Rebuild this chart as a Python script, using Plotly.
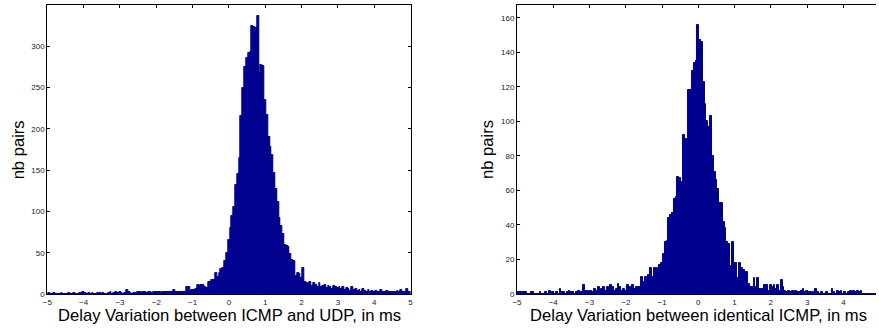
import numpy as np
import plotly.graph_objects as go

# Bin centres: -5 .. 5 step 0.05 (201 bins, width 0.05)
bin_start = -5.0
bin_width = 0.05
n_bins = 201
centers = [round(bin_start + bin_width * k, 3) for k in range(n_bins)]

# Left histogram: delay variation between ICMP and UDP
counts_icmp_udp = (
    [0, 1, 0, 0, 1, 0, 0, 0, 1, 0, 0, 0, 1, 0, 0, 1, 0, 0, 1, 1]
    + [3, 1, 0, 1, 0, 1, 0, 0, 1, 1, 0, 1, 0, 0, 1, 2, 0, 1, 2, 1]
    + [2, 1, 0, 1, 5, 2, 1, 0, 1, 1, 2, 2, 1, 3, 2, 1, 3, 2, 1, 2]
    + [3, 2, 3, 1, 3, 2, 3, 2, 3, 2, 5, 2, 3, 2, 3, 2, 3, 8, 8, 4]
    + [5, 5, 6, 11, 10, 11, 11, 8, 7, 14, 15, 17, 17, 25, 21, 25, 30, 32, 40, 50]
    + [66, 80, 95, 105, 132, 145, 165, 216, 250, 275, 286, 292, 293, 325, 323, 322, 337, 268, 277, 276]
    + [235, 217, 190, 178, 168, 146, 127, 112, 92, 82, 73, 59, 58, 57, 49, 41, 40, 22, 25, 24]
    + [19, 32, 14, 13, 12, 15, 10, 13, 11, 9, 13, 8, 10, 11, 7, 10, 9, 6, 10, 8]
    + [7, 9, 6, 8, 5, 7, 6, 4, 8, 5, 6, 4, 5, 3, 6, 4, 3, 5, 2, 4]
    + [3, 4, 2, 3, 5, 2, 3, 4, 2, 3, 2, 3, 2, 4, 2, 5, 3, 2, 6, 2, 3]
)

# Right histogram: delay variation between identical ICMP
counts_icmp_icmp = (
    [1, 1, 1, 0, 1, 1, 0, 0, 1, 1, 0, 0, 0, 1, 0, 0, 1, 0, 2, 0]
    + [1, 0, 1, 0, 3, 1, 1, 0, 1, 2, 1, 1, 0, 1, 2, 1, 1, 5, 2, 2]
    + [1, 2, 1, 3, 2, 4, 2, 3, 4, 2, 4, 3, 5, 4, 2, 3, 6, 4, 2, 3]
    + [2, 5, 3, 4, 5, 3, 4, 4, 4, 10, 7, 10, 7, 11, 15, 10, 15, 15, 10, 17]
    + [18, 23, 30, 31, 44, 46, 47, 55, 56, 68, 67, 65, 92, 90, 87, 118, 118, 129, 134, 135]
    + [156, 147, 146, 123, 110, 100, 97, 103, 80, 71, 66, 61, 53, 53, 42, 38, 30, 29, 16, 30]
    + [11, 18, 9, 18, 15, 14, 13, 13, 6, 4, 4, 9, 4, 9, 3, 3, 2, 5, 5, 2]
    + [5, 4, 5, 3, 5, 2, 8, 4, 2, 1, 2, 1, 2, 1, 2, 1, 1, 2, 3, 1]
    + [2, 1, 1, 0, 1, 3, 1, 0, 1, 0, 0, 1, 0, 0, 3, 1, 0, 2, 1, 2]
    + [0, 1, 0, 1, 2, 1, 2, 1, 2, 1, 2, 0, 0, 0, 0, 0, 0, 0, 0, 0, 0]
)

xticks_left = [-5, -4, -3, -2, -1, 0, 1, 2, 3, 4, 5]
xticks_right = [-5, -4, -3, -2, -1, 0, 1, 2, 3, 4]
yticks_left = [0, 50, 100, 150, 200, 250, 300]
yticks_right = [0, 20, 40, 60, 80, 100, 120, 140, 160]

xlabel_left = "Delay Variation between ICMP and UDP, in ms"
xlabel_right = "Delay Variation between identical ICMP, in ms"
ylabel = "nb pairs"

BAR = "rgb(0,0,143)"
FONT = "Liberation Sans, Arial, Helvetica, sans-serif"
W, H = 879, 329

fig = go.Figure()
fig.add_trace(go.Bar(x=centers, y=counts_icmp_udp, width=bin_width,
                     marker=dict(color=BAR, line=dict(color=BAR, width=1)),
                     xaxis="x", yaxis="y", showlegend=False))
fig.add_trace(go.Bar(x=centers, y=counts_icmp_icmp, width=bin_width,
                     marker=dict(color=BAR, line=dict(color=BAR, width=1)),
                     xaxis="x2", yaxis="y2", showlegend=False))

axis_common = dict(showline=True, linecolor="black", linewidth=1,
                   ticks="inside", ticklen=3, tickcolor="black", tickwidth=1,
                   showgrid=False, zeroline=False,
                   tickfont=dict(family=FONT, size=8, color="#222"),
                   layer="below traces")

fig.update_layout(
    width=W, height=H,
    margin=dict(l=0, r=0, t=5, b=35),
    paper_bgcolor="white", plot_bgcolor="white",
    bargap=0,
    xaxis=dict(domain=[42.7 / W, 409.3 / W], range=[-5, 5], tickvals=xticks_left,
               mirror="ticks", anchor="y", **axis_common),
    yaxis=dict(range=[0, 350], tickvals=yticks_left, mirror="ticks", anchor="x",
               **axis_common),
    xaxis2=dict(domain=[516.7 / W, 1.0], range=[-5, 4.9], tickvals=xticks_right,
                mirror="ticks", anchor="y2", **axis_common),
    yaxis2=dict(range=[0, 167.5], tickvals=yticks_right, mirror=False, anchor="x2",
                **axis_common),
)

title_font = dict(family=FONT, size=16.6, color="black")
fig.add_annotation(text=xlabel_left, x=227 / W, y=-21 / 289, xref="paper", yref="paper",
                   showarrow=False, font=title_font, xanchor="center", yanchor="middle")
fig.add_annotation(text=xlabel_right, x=700 / W, y=-21 / 289, xref="paper", yref="paper",
                   showarrow=False, font=title_font, xanchor="center", yanchor="middle")
fig.add_annotation(text=ylabel, x=14 / W, y=0.5, xref="paper", yref="paper",
                   showarrow=False, font=title_font, textangle=-90,
                   xanchor="center", yanchor="middle")
fig.add_annotation(text=ylabel, x=487 / W, y=0.5, xref="paper", yref="paper",
                   showarrow=False, font=title_font, textangle=-90,
                   xanchor="center", yanchor="middle")

fig.write_html("out.html")
